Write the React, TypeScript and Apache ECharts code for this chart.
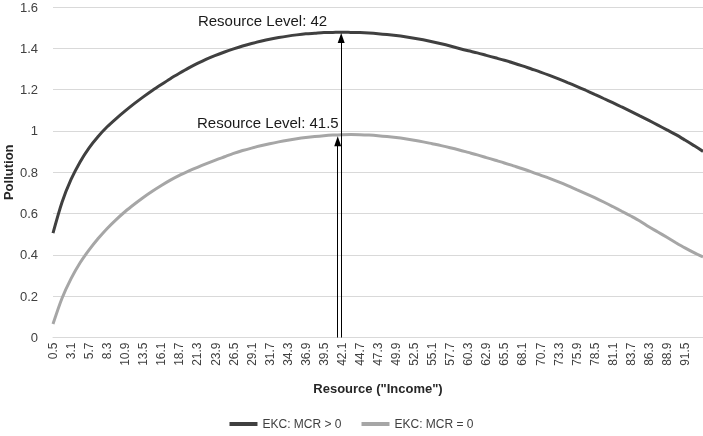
import React, { useEffect, useRef } from "react";
import * as echarts from "echarts";

// Resource ("Income") categories, step 1.3
const categories = [
  "0.5", "1.8", "3.1", "4.4", "5.7", "7", "8.3", "9.6", "10.9", "12.2",
  "13.5", "14.8", "16.1", "17.4", "18.7", "20", "21.3", "22.6", "23.9", "25.2",
  "26.5", "27.8", "29.1", "30.4", "31.7", "33", "34.3", "35.6", "36.9", "38.2",
  "39.5", "40.8", "42.1", "43.4", "44.7", "46", "47.3", "48.6", "49.9", "51.2",
  "52.5", "53.8", "55.1", "56.4", "57.7", "59", "60.3", "61.6", "62.9", "64.2",
  "65.5", "66.8", "68.1", "69.4", "70.7", "72", "73.3", "74.6", "75.9", "77.2",
  "78.5", "79.8", "81.1", "82.4", "83.7", "85", "86.3", "87.6", "88.9", "90.2",
  "91.5", "92.8", "94.1",
];

// EKC: MCR > 0
const ekcPositive = [
  0.505, 0.655, 0.765, 0.85, 0.918, 0.973, 1.02, 1.06, 1.097, 1.132,
  1.165, 1.196, 1.225, 1.253, 1.279, 1.304, 1.327, 1.348, 1.366, 1.382,
  1.397, 1.411, 1.423, 1.434, 1.444, 1.452, 1.459, 1.465, 1.47, 1.473,
  1.476, 1.477, 1.478, 1.477, 1.476, 1.474, 1.471, 1.467, 1.462, 1.456,
  1.449, 1.441, 1.432, 1.422, 1.411, 1.399, 1.388, 1.378, 1.366, 1.354,
  1.342, 1.329, 1.315, 1.3, 1.285, 1.269, 1.252, 1.234, 1.216, 1.197,
  1.177, 1.157, 1.137, 1.116, 1.095, 1.073, 1.051, 1.028, 1.005, 0.982,
  0.956, 0.929, 0.901,
];

// EKC: MCR = 0
const ekcZero = [
  0.065, 0.19, 0.285, 0.362, 0.424, 0.479, 0.528, 0.571, 0.61, 0.645,
  0.678, 0.708, 0.736, 0.762, 0.785, 0.805, 0.824, 0.842, 0.859, 0.875,
  0.891, 0.905, 0.917, 0.928, 0.938, 0.947, 0.955, 0.962, 0.968, 0.973,
  0.977, 0.98, 0.982, 0.983, 0.982, 0.98, 0.977, 0.973, 0.968, 0.962,
  0.955, 0.947, 0.938, 0.929, 0.919, 0.908, 0.896, 0.884, 0.871, 0.858,
  0.845, 0.831, 0.817, 0.802, 0.786, 0.77, 0.753, 0.735, 0.716, 0.697,
  0.677, 0.656, 0.634, 0.611, 0.588, 0.564, 0.536, 0.511, 0.485, 0.459,
  0.434, 0.411, 0.39,
];

const seriesNames = ["EKC: MCR > 0", "EKC: MCR = 0"];
const peakLevels = [42, 41.5];
const arrowTops = [1.45, 0.95];
const peakValues = [1.478, 0.983];
const annotationTexts = ["Resource Level: 42", "Resource Level: 41.5"];

const FONT = "'Liberation Sans', Arial, sans-serif";

export default function App() {
  const ref = useRef<HTMLDivElement>(null);

  useEffect(() => {
    if (!ref.current) return;
    const chart = echarts.init(ref.current, null, { renderer: "svg" });
    chart.setOption({
      animation: false,
      textStyle: { fontFamily: FONT },
      grid: {
        left: 53,
        right: 0,
        top: 7,
        bottom: 98.5,
        containLabel: false,
        outerBoundsMode: "none",
      },
      legend: {
        data: seriesNames,
        top: 413,
        left: "center",
        icon: "rect",
        itemWidth: 28,
        itemHeight: 4,
        itemGap: 20,
        textStyle: { fontSize: 12, color: "#404040", fontFamily: FONT },
      },
      xAxis: [
        {
          type: "category",
          data: categories,
          boundaryGap: false,
          name: 'Resource ("Income")',
          nameLocation: "middle",
          nameGap: 44,
          nameMoveOverlap: false,
          nameTextStyle: { fontWeight: "bold", fontSize: 13, color: "#262626", fontFamily: FONT },
          axisLine: { lineStyle: { color: "#d9d9d9", width: 1 } },
          axisTick: { show: false },
          axisLabel: {
            interval: (i: number) => i % 2 === 0 && i <= 70,
            rotate: 90,
            fontSize: 12,
            color: "#404040",
            margin: 5,
            fontFamily: FONT,
          },
          splitLine: { show: false },
        },
        {
          type: "value",
          min: 0.5,
          max: 94.1,
          show: false,
        },
      ],
      yAxis: {
        type: "value",
        min: 0,
        max: 1.6,
        interval: 0.2,
        name: "Pollution",
        nameLocation: "middle",
        nameGap: 38,
        nameMoveOverlap: false,
        nameTextStyle: { fontWeight: "bold", fontSize: 13, color: "#262626", fontFamily: FONT },
        axisLine: { show: false },
        axisTick: { show: false },
        axisLabel: { fontSize: 13, color: "#404040", margin: 15, fontFamily: FONT },
        splitLine: { lineStyle: { color: "#d9d9d9", width: 1 } },
      },
      series: [
        {
          name: seriesNames[0],
          type: "line",
          data: ekcPositive,
          showSymbol: false,
          smooth: 0.3,
          lineStyle: { color: "#404040", width: 3 },
          itemStyle: { color: "#404040" },
        },
        {
          name: seriesNames[1],
          type: "line",
          data: ekcZero,
          showSymbol: false,
          smooth: 0.3,
          lineStyle: { color: "#a6a6a6", width: 3 },
          itemStyle: { color: "#a6a6a6" },
        },
        {
          name: "arrows",
          type: "line",
          xAxisIndex: 1,
          yAxisIndex: 0,
          data: [[peakLevels[0], 0]],
          showSymbol: false,
          lineStyle: { width: 0 },
          silent: true,
          markLine: {
            silent: true,
            symbol: ["none", "triangle"],
            symbolSize: [7, 10],
            label: { show: false },
            lineStyle: { color: "#000", width: 1, type: "solid" },
            data: peakLevels.map((lv, k) => [
              { coord: [lv, 0] },
              { coord: [lv, arrowTops[k]] },
            ]),
          },
        },
      ],
    });

    const dx = [-14, 1];
    const graphics = peakLevels.map((lv, k) => {
      const p = chart.convertToPixel({ seriesIndex: 2 }, [lv, peakValues[k]]) as number[];
      return {
        type: "text",
        x: p[0] + dx[k],
        y: p[1] - 12,
        silent: true,
        style: {
          text: annotationTexts[k],
          align: "right",
          verticalAlign: "middle",
          fontSize: 15,
          fontFamily: FONT,
          fill: "#1a1a1a",
        },
      };
    });
    chart.setOption({ graphic: graphics });

    return () => chart.dispose();
  }, []);

  return (
    <div
      ref={ref}
      style={{ position: "fixed", left: 0, top: 0, width: 703, height: 436 }}
    />
  );
}
